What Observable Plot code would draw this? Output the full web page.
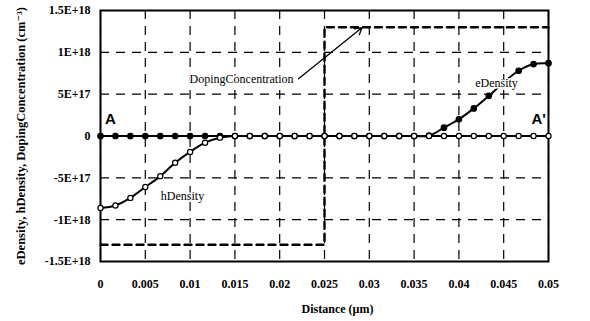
<!DOCTYPE html>
<html>
<head>
<meta charset="utf-8">
<script src="https://cdn.jsdelivr.net/npm/d3@7"></script>
<script src="https://cdn.jsdelivr.net/npm/@observablehq/plot@0.6"></script>
<style>
  html, body { margin: 0; padding: 0; background: #fff; }
  svg text { fill: #000; }
</style>
</head>
<body>
<div id="chart"></div>
<script>
// x positions (µm), 31 samples
const distance = [0,0.001667,0.003333,0.005,0.006667,0.008333,0.01,0.011667,0.013333,0.015,0.016667,0.018333,0.02,0.021667,0.023333,0.025,0.026667,0.028333,0.03,0.031667,0.033333,0.035,0.036667,0.038333,0.04,0.041667,0.043333,0.045,0.046667,0.048333,0.05];
const eDensity = [0,0,0,0,0,0,0,0,0,0,0,0,0,0,0,0,0,0,0,0,0,0,0.035e17,1.0e17,2.0e17,3.3e17,4.8e17,6.4e17,7.8e17,8.6e17,8.7e17];
const hDensity = [-8.6e17,-8.3e17,-7.4e17,-6.1e17,-4.8e17,-3.2e17,-1.9e17,-0.8e17,-0.2e17,0,0,0,0,0,0,0,0,0,0,0,0,0,0,0,0,0,0,0,0,0,0];
const dopingX = [0, 0.025, 0.025, 0.05];
const dopingY = [-1.3e18, -1.3e18, 1.3e18, 1.3e18];

const xTicks = [0,0.005,0.01,0.015,0.02,0.025,0.03,0.035,0.04,0.045,0.05];
const xTickLabels = ["0","0.005","0.01","0.015","0.02","0.025","0.03","0.035","0.04","0.045","0.05"];
const yTicks = [-1.5e18,-1e18,-5e17,0,5e17,1e18,1.5e18];
const yTickLabels = ["-1.5E+18","-1E+18","-5E+17","0","5E+17","1E+18","1.5E+18"];

const labels = [
  {x: 0.01574, y: 6.84e17, text: "DopingConcentration"},
  {x: 0.0442, y: 6.36e17, text: "eDensity"},
  {x: 0.00915, y: -7.2e17, text: "hDensity"}
];
const ends = [
  {x: 0.00112, y: 2.04e17, text: "A"},
  {x: 0.0489, y: 2.04e17, text: "A'"}
];
const arrow = [{x1: 0.0221, y1: 6.84e17, x2: 0.0292, y2: 1.296e18}];

const eData = distance.map((x, i) => ({x, y: eDensity[i]}));
const hData = distance.map((x, i) => ({x, y: hDensity[i]}));
const dData = dopingX.map((x, i) => ({x, y: dopingY[i]}));

const serif = "'Liberation Serif', 'DejaVu Serif', serif";

const chart = Plot.plot({
  width: 590,
  height: 321,
  marginLeft: 100,
  marginRight: 42,
  marginTop: 10,
  marginBottom: 60,
  style: {fontSize: "12px", color: "#000", background: "#fff", overflow: "visible"},
  x: {domain: [0, 0.05]},
  y: {domain: [-1.5e18, 1.5e18]},
  marks: [
    Plot.gridX(xTicks, {stroke: "#000", strokeOpacity: 1, strokeWidth: 1.2, strokeDasharray: "9,7"}),
    Plot.gridY(yTicks, {stroke: "#000", strokeOpacity: 1, strokeWidth: 1.2, strokeDasharray: "9,7"}),
    Plot.axisX(xTicks, {tickSize: 0, tickPadding: 18, tickFormat: (d) => xTickLabels[xTicks.indexOf(d)], label: null, fontWeight: "bold", fontSize: 12, fontFamily: serif}),
    Plot.axisY(yTicks, {tickSize: 0, tickPadding: 10, tickFormat: (d) => yTickLabels[yTicks.indexOf(d)], label: null, fontWeight: "bold", fontSize: 12, fontFamily: serif}),
    Plot.frame({stroke: "#000", strokeWidth: 2}),
    Plot.line(dData, {x: "x", y: "y", stroke: "#000", strokeWidth: 2.4, strokeDasharray: "7,5"}),
    Plot.line(eData, {x: "x", y: "y", stroke: "#000", strokeWidth: 2, curve: "catmull-rom"}),
    Plot.line(hData, {x: "x", y: "y", stroke: "#000", strokeWidth: 2, curve: "catmull-rom"}),
    Plot.dot(eData, {x: "x", y: "y", r: 2.6, fill: "#000", stroke: "#000"}),
    Plot.dot(hData, {x: "x", y: "y", r: 2.6, fill: "#fff", stroke: "#000", strokeWidth: 1.2}),
    Plot.arrow(arrow, {x1: "x1", y1: "y1", x2: "x2", y2: "y2", stroke: "#000", strokeWidth: 1.3, headLength: 9}),
    Plot.text(labels, {x: "x", y: "y", text: "text", fontSize: 12, fontFamily: serif, fill: "#000", stroke: "#fff", strokeWidth: 3, paintOrder: "stroke"}),
    Plot.text(ends, {x: "x", y: "y", text: "text", fontSize: 15, fontWeight: "bold", fontFamily: "'Liberation Sans', sans-serif", fill: "#000"}),
    Plot.text(["Distance (µm)"], {frameAnchor: "bottom", dx: 13, dy: 51, text: (d) => d, fontSize: 12, fontWeight: "bold", fontFamily: serif}),
    Plot.text(["eDensity, hDensity, DopingConcentration (cm⁻³)"], {frameAnchor: "left", textAnchor: "middle", dx: -80, rotate: -90, text: (d) => d, fontSize: 12.5, fontWeight: "bold", fontFamily: serif})
  ]
});
document.getElementById("chart").appendChild(chart);
</script>
</body>
</html>
